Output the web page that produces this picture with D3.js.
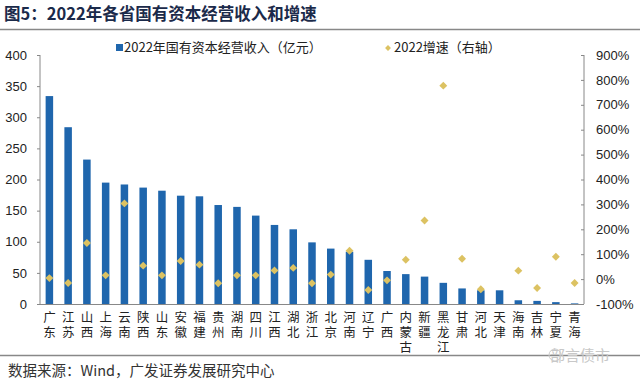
<!DOCTYPE html>
<html><head><meta charset="utf-8">
<script src="https://cdn.jsdelivr.net/npm/d3@7"></script>
<style>body{margin:0;background:#fff}svg{display:block}</style>
</head><body><svg id="c" width="640" height="385"></svg>
<script>
const provinces = ["广东","江苏","山西","上海","云南","陕西","山东","安徽","福建","贵州","湖南","四川","江西","湖北","浙江","北京","河南","辽宁","广西","内蒙古","新疆","黑龙江","甘肃","河北","天津","海南","吉林","宁夏","青海"];
const revenue = [334,284,232,195,192,187,182,174,173,159,156,142,127,120,99,89,84,71,53,48,44,34,25,22,22,6,5,3,1];
const growth = [4,-16,145,15,304,54,15,73,58,-17,15,15,35,45,-17,18,114,-44,-5,78,235,777,82,-41,null,34,-36,90,-16];
const leftTicks = [0,50,100,150,200,250,300,350,400];
const rightTicks = [-100,0,100,200,300,400,500,600,700,800,900];

const svg = d3.select("#c");
const font = "'Liberation Sans', Arial, sans-serif";
const cjk = "'Noto Sans CJK SC', sans-serif";
const m = {l:40, r:584, t:55, b:304};

svg.append("text").attr("x",4).attr("y",20).attr("font-family",cjk).attr("font-weight","bold")
  .attr("font-size",16.5).attr("fill","#1b2a4a").text("图5：2022年各省国有资本经营收入和增速");
svg.append("line").attr("x1",0).attr("x2",640).attr("y1",29.5).attr("y2",29.5).attr("stroke","#888").attr("stroke-width",1.5);

const x = d3.scaleBand().domain(provinces).range([m.l, m.r]).paddingInner(0.6).paddingOuter(0.3);
const y = d3.scaleLinear().domain([0,400]).range([m.b, m.t]);
const y2 = d3.scaleLinear().domain([-100,900]).range([m.b, m.t]);

// axes
const ax = svg.append("g").attr("transform",`translate(${m.l},0)`)
  .call(d3.axisLeft(y).tickValues(leftTicks).tickSize(3).tickPadding(10));
ax.selectAll("text").attr("font-family",font).attr("font-size",13).attr("fill","#222");
ax.selectAll("line,path").attr("stroke","#888");
ax.select(".domain").attr("d",`M0,${m.t}V${m.b}`);

const ax2 = svg.append("g").attr("transform",`translate(${m.r},0)`)
  .call(d3.axisRight(y2).tickValues(rightTicks).tickFormat(d=>d+"%").tickSize(-3).tickPadding(12));
ax2.selectAll("text").attr("font-family",font).attr("font-size",13).attr("fill","#222");
ax2.selectAll("line,path").attr("stroke","#888");
ax2.select(".domain").attr("d",`M0,${m.t}V${m.b}`);

svg.append("line").attr("x1",m.l).attr("x2",m.r).attr("y1",m.b+0.5).attr("y2",m.b+0.5).attr("stroke","#888");

// bars
svg.append("g").selectAll("rect").data(provinces).join("rect")
  .attr("x",d=>x(d)).attr("width",x.bandwidth())
  .attr("y",(d,i)=>y(revenue[i])).attr("height",(d,i)=>y(0)-y(revenue[i]))
  .attr("fill","#1f66ad");

// diamonds
const sym = d3.symbol().type(d3.symbolDiamond2).size(40);
svg.append("g").selectAll("path").data(provinces.map((p,i)=>({p,g:growth[i]})).filter(d=>d.g!==null)).join("path")
  .attr("d",sym).attr("transform",d=>`translate(${x(d.p)+x.bandwidth()/2},${y2(d.g)})`)
  .attr("fill","#dcc262");

// x labels, vertical writing
svg.append("g").selectAll("text").data(provinces).join("text")
  .attr("x",d=>x(d)+x.bandwidth()/2).attr("y",311)
  .style("writing-mode","vertical-rl").style("text-orientation","upright")
  .attr("letter-spacing",2.5)
  .attr("font-family",cjk).attr("font-size",12.5).attr("fill","#222").text(d=>d);

// legend
const lg = svg.append("g");
lg.append("rect").attr("x",116).attr("y",44).attr("width",7).attr("height",7).attr("fill","#1f66ad");
lg.append("text").attr("x",124).attr("y",52).attr("font-family",cjk).attr("font-size",13).attr("fill","#222").text("2022年国有资本经营收入（亿元）");
lg.append("path").attr("d",d3.symbol().type(d3.symbolDiamond2).size(22)).attr("transform","translate(388,48)").attr("fill","#dcc262");
lg.append("text").attr("x",394).attr("y",52).attr("font-family",cjk).attr("font-size",13).attr("fill","#222").text("2022增速（右轴）");

// footer
svg.append("line").attr("x1",0).attr("x2",640).attr("y1",355.5).attr("y2",355.5).attr("stroke","#888").attr("stroke-width",1.5);
svg.append("text").attr("x",8).attr("y",376).attr("font-family",cjk).attr("font-size",14.5).attr("fill","#333").text("数据来源：Wind，广发证券发展研究中心");
svg.append("text").attr("x",580).attr("y",361).attr("text-anchor","middle").attr("font-family",cjk).attr("font-size",15).attr("fill","#c8c8c8").text("部言债市");
svg.append("circle").attr("cx",555).attr("cy",355).attr("r",6).attr("fill","none").attr("stroke","#ccc");
</script></body></html>
